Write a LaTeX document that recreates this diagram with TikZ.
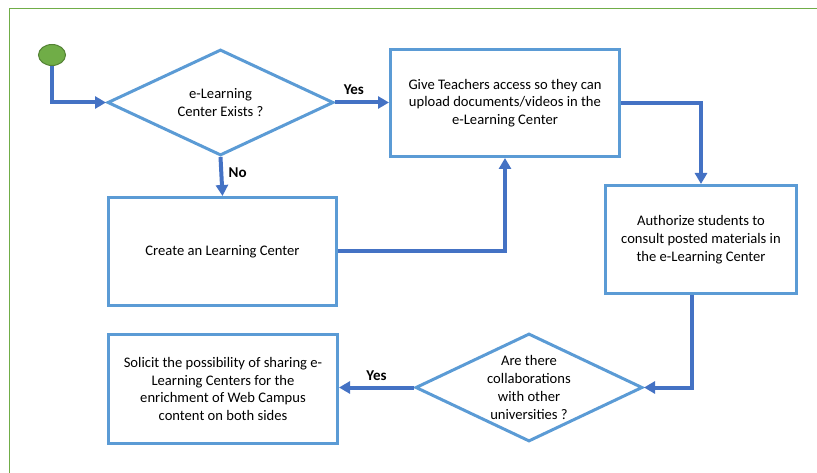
\documentclass[tikz,border=0pt]{standalone}
\usepackage{fontspec}
\setmainfont{Carlito}
\usetikzlibrary{shapes.geometric}
\usetikzlibrary{arrows.meta}

\definecolor{boxblue}{HTML}{5B9BD5}
\definecolor{flowblue}{HTML}{4472C4}
\definecolor{framegreen}{HTML}{70AD47}
\definecolor{startedge}{HTML}{548235}

\tikzset{
  box/.style={draw=boxblue, line width=3pt, align=center, inner sep=0pt,
    font=\fontsize{14.6}{17.8}\selectfont},
  question/.style={diamond, aspect=2.1, draw=boxblue, line width=3pt, align=center,
    inner sep=0pt, font=\fontsize{14.6}{17.8}\selectfont},
  flow/.style={draw=flowblue, line width=4pt, -{Triangle[length=11pt,width=12pt]}},
  answer/.style={font=\bfseries\fontsize{15}{18}\selectfont}
}

\begin{document}
\begin{tikzpicture}[x=1pt, y=-1pt]
    \clip (0, 0) rectangle (817, 473);
    \draw[framegreen, line width=1.5pt] (9.5, 8.5) rectangle (840, 500);

    \node[ellipse, fill=framegreen, draw=startedge, line width=1pt,
      minimum width=27pt, minimum height=21pt, inner sep=0pt] (start) at (52, 55) {};

    \node[question, minimum width=226pt, minimum height=106pt] (q1) at (220.5, 102.5)
      {e-Learning\\Center Exists ?};
    \node[box, minimum width=229pt, minimum height=107pt] (teach) at (505, 103)
      {Give Teachers access so they can\\upload documents/videos in the\\e-Learning Center};
    \node[box, minimum width=228pt, minimum height=108pt] (create) at (222.5, 251.5)
      {Create an Learning Center};
    \node[box, minimum width=191pt, minimum height=108pt] (stud) at (701, 239.5)
      {Authorize students to\\consult posted materials in\\the e-Learning Center};
    \node[question, minimum width=227pt, minimum height=108pt] (q2) at (529, 387.5)
      {Are there\\collaborations\\with other\\universities ?};
    \node[box, minimum width=229pt, minimum height=109pt] (share) at (223, 389)
      {Solicit the possibility of sharing e-\\Learning Centers for the\\enrichment of Web Campus\\content on both sides};

    \path[flow] (start) |- (q1.west);
    \path[flow] (q1.east) -- node[answer, above=3pt, pos=0.35] {Yes} (q1.east -| teach.west);
    \path[flow] (q1.south) -- node[answer, right=2pt, pos=0.4] {No} (create.north);
    \path[flow] (create.east) -| (teach.south);
    \path[flow] (teach.east) -| (stud.north);
    \path[flow] ([xshift=-9pt]stud.south) |- (q2.east);
    \path[flow] (q2.west) -- node[answer, above=2pt, midway] {Yes} (q2.west -| share.east);
  \end{tikzpicture}
\end{document}
